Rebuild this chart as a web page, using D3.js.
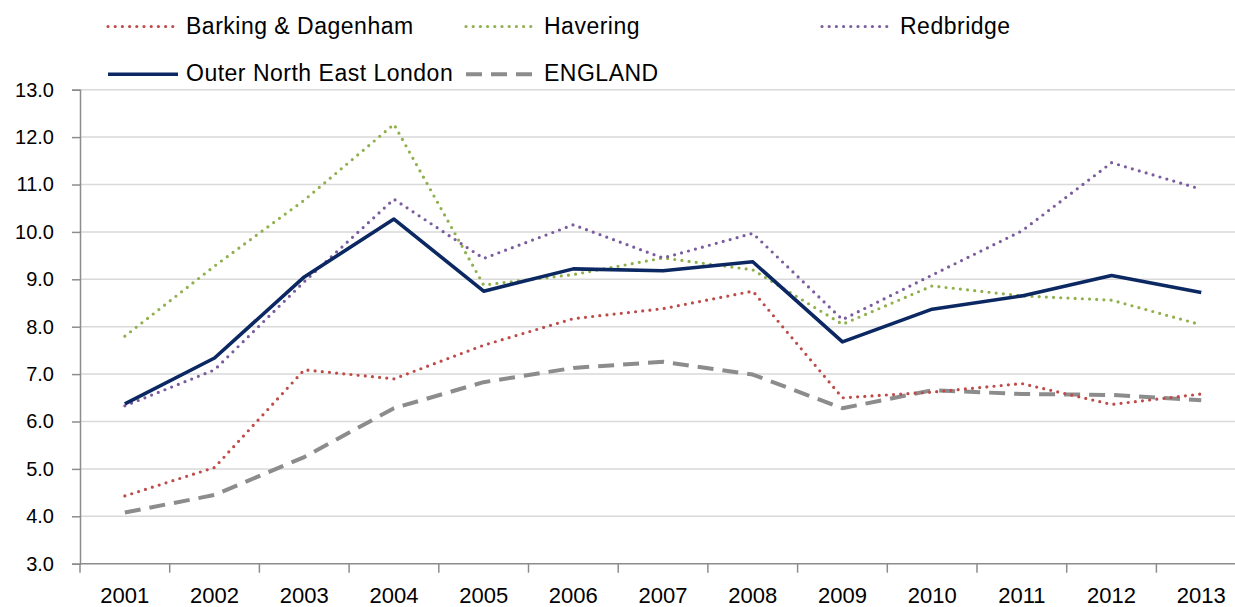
<!DOCTYPE html>
<html>
<head>
<meta charset="utf-8">
<script src="https://cdn.jsdelivr.net/npm/d3@7"></script>
<style>
  html, body { margin: 0; padding: 0; background: #fff; }
  svg text { font-family: "Liberation Sans", Arial, sans-serif; fill: #000; }
</style>
</head>
<body>
<svg id="chart" width="1235" height="607"></svg>
<script>
// Years along the category axis
const years = ["2001","2002","2003","2004","2005","2006","2007","2008","2009","2010","2011","2012","2013"];

// Rates per area by year
const barkingDagenham = [4.43, 5.03, 7.09, 6.90, 7.61, 8.17, 8.38, 8.75, 6.50, 6.62, 6.80, 6.36, 6.58];
const havering        = [7.80, 9.28, 10.67, 12.27, 8.88, 9.10, 9.45, 9.20, 8.05, 8.86, 8.65, 8.56, 8.04];
const redbridge       = [6.33, 7.09, 8.95, 10.69, 9.44, 10.15, 9.45, 9.97, 8.15, 9.09, 10.02, 11.46, 10.90];
const outerNorthEast  = [6.37, 7.34, 9.05, 10.27, 8.75, 9.22, 9.18, 9.37, 7.68, 8.37, 8.65, 9.08, 8.72];
const england         = [4.08, 4.45, 5.25, 6.28, 6.83, 7.13, 7.26, 6.99, 6.28, 6.66, 6.58, 6.56, 6.45];

// Value axis ticks
const yTicks = [3, 4, 5, 6, 7, 8, 9, 10, 11, 12, 13];

const seriesNames = ["Barking & Dagenham", "Havering", "Redbridge", "Outer North East London", "ENGLAND"];
const seriesValues = [barkingDagenham, havering, redbridge, outerNorthEast, england];

const styles = [
  { color: "#be4b48", width: 3.2, dash: "0 7.2", cap: "round" },
  { color: "#8fb04c", width: 3.2, dash: "0 7.2", cap: "round" },
  { color: "#7a5c9e", width: 3.2, dash: "0 7.2", cap: "round" },
  { color: "#0b2862", width: 3.6, dash: null, cap: "butt" },
  { color: "#8c8c8c", width: 4, dash: "16 9", cap: "butt" }
];

const svg = d3.select("#chart");
const plotLeft = 80, plotRight = 80 + 13 * 89.7, plotTop = 89.7, plotBottom = 563.7;

const x = d3.scaleBand().domain(years).range([plotLeft, plotRight]).padding(0);
const y = d3.scaleLinear().domain([3, 13]).range([plotBottom, plotTop]);

// Horizontal gridlines
svg.append("g")
  .selectAll("line")
  .data(yTicks.filter(t => t > 3))
  .join("line")
  .attr("x1", plotLeft).attr("x2", 1235)
  .attr("y1", d => y(d)).attr("y2", d => y(d))
  .attr("stroke", "#d9d9d9").attr("stroke-width", 1.5);

// Y axis
const yAxis = svg.append("g")
  .attr("transform", `translate(${plotLeft},0)`)
  .call(d3.axisLeft(y).tickValues(yTicks).tickFormat(d3.format(".1f")).tickSize(8).tickPadding(18));
yAxis.select(".domain").attr("stroke", "#8c8c8c").attr("stroke-width", 1.5);
yAxis.selectAll(".tick line").attr("stroke", "#8c8c8c").attr("stroke-width", 1.5);
yAxis.selectAll(".tick text").attr("font-size", 20).attr("fill", "#000")
  .style("font-family", "'Liberation Sans', Arial, sans-serif");

// X axis: baseline with ticks on the category boundaries
const xg = svg.append("g");
xg.append("line")
  .attr("x1", plotLeft).attr("x2", 1235)
  .attr("y1", plotBottom).attr("y2", plotBottom)
  .attr("stroke", "#8c8c8c").attr("stroke-width", 1.5);
xg.selectAll("line.tk")
  .data(years)
  .join("line")
  .attr("class", "tk")
  .attr("x1", d => x(d)).attr("x2", d => x(d))
  .attr("y1", plotBottom).attr("y2", plotBottom + 9)
  .attr("stroke", "#8c8c8c").attr("stroke-width", 1.5);
xg.selectAll("text")
  .data(years)
  .join("text")
  .attr("x", d => x(d) + x.bandwidth() / 2)
  .attr("y", 603)
  .attr("text-anchor", "middle")
  .attr("font-size", 22)
  .text(d => d);

// Series lines
const line = d3.line()
  .x((d, i) => x(years[i]) + x.bandwidth() / 2)
  .y(d => y(d));

const drawOrder = [4, 0, 1, 2, 3];
drawOrder.forEach(k => {
  const s = styles[k];
  svg.append("path")
    .datum(seriesValues[k])
    .attr("d", line)
    .attr("fill", "none")
    .attr("stroke", s.color)
    .attr("stroke-width", s.width)
    .attr("stroke-linecap", s.cap)
    .attr("stroke-linejoin", "round")
    .attr("stroke-dasharray", s.dash);
});

// Legend
const legendPos = [
  { x: 108, y: 26.5 }, { x: 466, y: 26.5 }, { x: 822, y: 26.5 },
  { x: 108, y: 74.3 }, { x: 466, y: 74.3 }
];
seriesNames.forEach((name, k) => {
  const s = styles[k], p = legendPos[k];
  const g = svg.append("g").attr("transform", `translate(${p.x},${p.y})`);
  g.append("line")
    .attr("x1", 0).attr("x2", 70).attr("y1", 0).attr("y2", 0)
    .attr("stroke", s.color)
    .attr("stroke-width", s.width)
    .attr("stroke-linecap", s.cap)
    .attr("stroke-dasharray", s.dash);
  g.append("text")
    .attr("x", 78).attr("y", 7)
    .attr("font-size", 23)
    .attr("letter-spacing", 0.5)
    .text(name);
});
</script>
</body>
</html>
